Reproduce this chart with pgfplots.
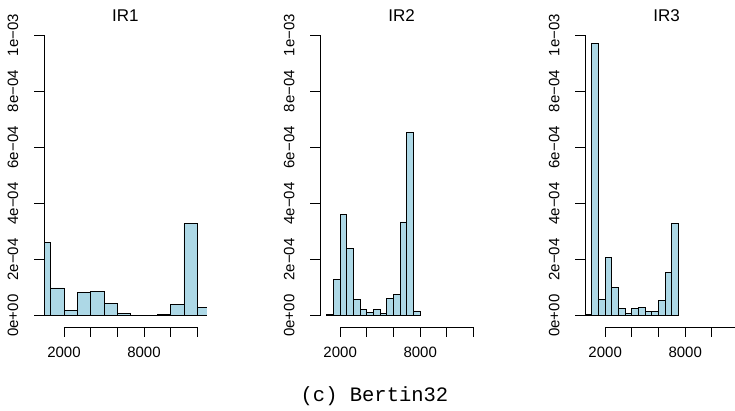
\documentclass[border=0pt]{standalone}
\usepackage{pgfplots}
\pgfplotsset{compat=1.18}
\usepackage{fontspec}
\setmainfont{Liberation Sans}
\newfontfamily\capfont{Liberation Mono}
\definecolor{rlightblue}{HTML}{ADD8E6}

\pgfplotsset{
  rhist/.style={
    scale only axis,
    width=162.7bp, height=303.1bp,
    xmin=510, xmax=12710, ymin=-4e-5, ymax=1.04e-3,
    axis lines*=left,
    axis line style={draw=none},
    tick align=outside,
    major tick length=10bp,
    tick style={black, line width=0.75bp},
    xtick={2000,4000,6000,8000,10000,12000},
    xticklabels={2000,,,8000,,},
    ytick={0,2e-4,4e-4,6e-4,8e-4,1e-3},
    yticklabels={0e+00,2e−04,4e−04,6e−04,8e−04,1e−03},
    scaled x ticks=false,
    scaled y ticks=false,
    ticklabel style={font=\fontsize{15bp}{18bp}\selectfont, inner sep=0pt},
    xticklabel style={anchor=base},
    yticklabel style={rotate=90, anchor=base},
    xticklabel shift=20.7bp,
    yticklabel shift=16bp,
    title style={at={(0.5,1)}, anchor=base, yshift=-3.4bp, inner sep=0pt,
      font=\fontsize{17bp}{20bp}\selectfont},
    after end axis/.code={
      \draw[black, line width=0.75bp] (axis cs:510,0) -- (axis cs:510,1e-3);
      \draw[black, line width=0.75bp] (axis cs:2000,-4e-5) -- (axis cs:12000,-4e-5);
    },
  },
  rbars/.style={ybar interval, fill=rlightblue, draw=black, line width=0.75bp},
}

\begin{document}
\begin{tikzpicture}
\useasboundingbox (0bp,0bp) rectangle (735bp,411bp);

% IR1
\begin{axis}[rhist, title={IR1}, at={(44.1bp,84.1bp)}, anchor=south west]
  \addplot[rbars] coordinates {
    (0,2.60e-4) (1000,9.9e-5) (2000,1.9e-5) (3000,8.3e-5) (4000,8.6e-5)
    (5000,4.5e-5) (6000,8e-6) (7000,0) (8000,0) (9000,5e-6)
    (10000,4.1e-5) (11000,3.28e-4) (12000,2.8e-5) (13000,0)
  };
\end{axis}

% IR2
\begin{axis}[rhist, title={IR2}, at={(320.3bp,84.1bp)}, anchor=south west]
  \addplot[rbars] coordinates {
    (1000,5e-6) (1500,1.29e-4) (2000,3.62e-4) (2500,2.41e-4) (3000,5.8e-5)
    (3500,2.1e-5) (4000,1.2e-5) (4500,2.1e-5) (5000,8e-6) (5500,6.2e-5)
    (6000,7.6e-5) (6500,3.34e-4) (7000,6.54e-4) (7500,1.7e-5) (8000,0)
  };
\end{axis}

% IR3
\begin{axis}[rhist, title={IR3}, at={(585.3bp,84.1bp)}, anchor=south west]
  \addplot[rbars] coordinates {
    (500,5e-6) (1000,9.70e-4) (1500,5.8e-5) (2000,2.08e-4) (2500,1.01e-4)
    (3000,2.6e-5) (3500,8e-6) (4000,2.5e-5) (4500,3.0e-5) (5000,1.5e-5)
    (5500,1.5e-5) (6000,5.5e-5) (6500,1.54e-4) (7000,3.28e-4) (7500,0)
  };
\end{axis}

\node[anchor=base, inner sep=0pt, font=\capfont\fontsize{20.5bp}{24bp}\selectfont]
  at (374.5bp,9.3bp) {(c) Bertin32};
\end{tikzpicture}
\end{document}
